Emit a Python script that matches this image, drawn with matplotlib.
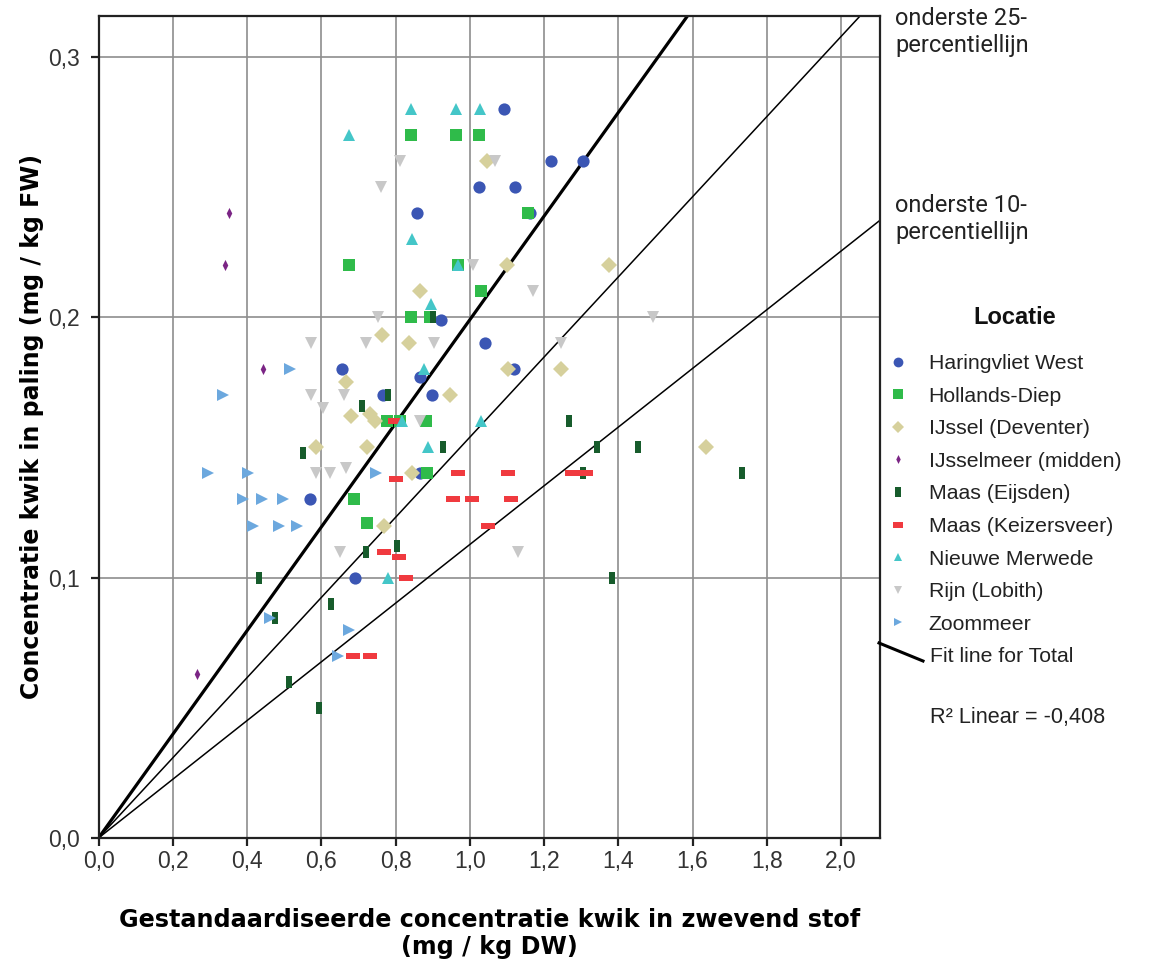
import matplotlib
matplotlib.use("Agg")
import matplotlib.pyplot as plt
from matplotlib.lines import Line2D
from matplotlib.ticker import FuncFormatter

plt.rcParams["font.family"] = ["Liberation Sans", "DejaVu Sans"]

# --- data -----------------------------------------------------------------
haringvliet_x = [1.092, 1.218, 1.304, 1.025, 1.122, 0.857, 1.162, 0.923, 1.041, 0.655,
                 1.120, 0.866, 0.767, 0.899, 0.866, 0.570, 0.691]
haringvliet_y = [0.28, 0.26, 0.26, 0.25, 0.25, 0.24, 0.24, 0.199, 0.19, 0.18,
                 0.18, 0.177, 0.17, 0.17, 0.14, 0.13, 0.10]

hollands_x = [0.841, 0.963, 1.025, 1.156, 0.676, 0.968, 1.030, 0.842, 0.893, 0.776,
              0.812, 0.881, 0.884, 0.689, 0.722]
hollands_y = [0.27, 0.27, 0.27, 0.24, 0.22, 0.22, 0.21, 0.20, 0.20, 0.16,
              0.16, 0.16, 0.14, 0.13, 0.121]

ijssel_x = [1.047, 1.100, 1.376, 0.866, 0.763, 0.835, 0.666, 1.104, 1.245, 0.947,
            0.680, 0.730, 0.745, 0.585, 0.724, 1.637, 0.845, 0.770]
ijssel_y = [0.26, 0.22, 0.22, 0.21, 0.193, 0.19, 0.175, 0.18, 0.18, 0.17,
            0.162, 0.163, 0.160, 0.15, 0.15, 0.15, 0.14, 0.12]

ijsselmeer_x = [0.352, 0.341, 0.442, 0.265]
ijsselmeer_y = [0.24, 0.22, 0.18, 0.063]

eijsden_x = [0.902, 0.781, 0.711, 1.266, 0.552, 0.929, 1.344, 1.454, 1.306, 1.734,
             0.803, 0.721, 0.433, 1.383, 0.626, 0.476, 0.514, 0.595]
eijsden_y = [0.20, 0.17, 0.166, 0.16, 0.148, 0.15, 0.15, 0.15, 0.14, 0.14,
             0.112, 0.11, 0.10, 0.10, 0.09, 0.0844, 0.06, 0.05]

keizersveer_x = [0.799, 0.801, 0.968, 1.104, 1.275, 1.313, 0.956, 1.005, 1.111, 1.048,
                 0.770, 0.810, 0.828, 0.686, 0.731]
keizersveer_y = [0.16, 0.138, 0.14, 0.14, 0.14, 0.14, 0.13, 0.13, 0.13, 0.12,
                 0.11, 0.108, 0.10, 0.07, 0.07]

merwede_x = [0.841, 0.963, 1.028, 0.676, 0.844, 0.968, 0.896, 0.878, 0.817, 1.030,
             0.887, 0.781]
merwede_y = [0.28, 0.28, 0.28, 0.27, 0.23, 0.22, 0.205, 0.18, 0.16, 0.16,
             0.15, 0.10]

rijn_x = [0.812, 1.068, 0.762, 1.008, 1.169, 0.754, 1.493, 0.572, 0.721, 0.905,
          1.246, 0.572, 0.660, 0.604, 0.866, 0.585, 0.624, 0.667, 0.651, 1.129]
rijn_y = [0.26, 0.26, 0.25, 0.22, 0.21, 0.20, 0.20, 0.19, 0.19, 0.19,
          0.19, 0.17, 0.17, 0.165, 0.16, 0.14, 0.14, 0.142, 0.11, 0.11]

zoommeer_x = [0.516, 0.335, 0.296, 0.402, 0.748, 0.388, 0.440, 0.498, 0.417, 0.486,
              0.534, 0.462, 0.676, 0.644]
zoommeer_y = [0.18, 0.17, 0.14, 0.14, 0.14, 0.13, 0.13, 0.13, 0.12, 0.12,
              0.12, 0.0844, 0.08, 0.07]

# reference lines through the origin: fit line, lower 25- and 10-percentile
line_slopes = [0.199, 0.1539, 0.1127]
line_widths = [2.3, 1.1, 1.1]

x_ticks = [0.0, 0.2, 0.4, 0.6, 0.8, 1.0, 1.2, 1.4, 1.6, 1.8, 2.0]
y_ticks = [0.0, 0.1, 0.2, 0.3]

# marker shapes (SPSS style)
vrect = [(-0.55, -1), (0.55, -1), (0.55, 1), (-0.55, 1)]
hrect = [(-1, -0.5), (1, -0.5), (1, 0.5), (-1, 0.5)]
thin_diamond = [(0, 1), (0.5, 0), (0, -1), (-0.5, 0)]

series = [
    ("Haringvliet West", haringvliet_x, haringvliet_y, "o", "#3b56b4", 8.8),
    ("Hollands-Diep", hollands_x, hollands_y, "s", "#2fbb4a", 9.0),
    ("IJssel (Deventer)", ijssel_x, ijssel_y, "D", "#d6d09c", 8.2),
    ("IJsselmeer (midden)", ijsselmeer_x, ijsselmeer_y, thin_diamond, "#7b2585", 8.0),
    ("Maas (Eijsden)", eijsden_x, eijsden_y, vrect, "#175c2c", 8.6),
    ("Maas (Keizersveer)", keizersveer_x, keizersveer_y, hrect, "#f03a3f", 9.6),
    ("Nieuwe Merwede", merwede_x, merwede_y, "^", "#44c6c8", 8.0),
    ("Rijn (Lobith)", rijn_x, rijn_y, "v", "#c8c8c8", 8.0),
    ("Zoommeer", zoommeer_x, zoommeer_y, ">", "#6ca8de", 8.0),
]

W, H = 1165, 964
fig = plt.figure(figsize=(W / 100, H / 100), dpi=100)
ax = fig.add_axes([98.5 / W, (H - 838) / H, (880 - 98.5) / W, (838 - 15.7) / H])

xmax, ymax = 2.105, 0.3158
ax.set_xlim(0, xmax)
ax.set_ylim(0, ymax)

ax.set_xticks(x_ticks)
ax.set_yticks(y_ticks)
comma = FuncFormatter(lambda v, _: f"{v:.1f}".replace(".", ","))
ax.xaxis.set_major_formatter(comma)
ax.yaxis.set_major_formatter(comma)
ax.tick_params(direction="out", length=6, width=1.6, labelsize=16.5, colors="#222222",
               labelcolor="#333333")
ax.tick_params(axis="x", pad=2.5)
ax.tick_params(axis="y", pad=7.5)
ax.grid(True, color="#8e8e8e", lw=1.2)
ax.set_axisbelow(True)
for s in ax.spines.values():
    s.set_color("#222222")
    s.set_linewidth(1.6)

for slope, lw in zip(line_slopes, line_widths):
    ax.plot([0, xmax], [0, slope * xmax], color="black", lw=lw, zorder=2)

handles = []
for name, xs, ys, mk, col, ms in series:
    ax.plot(xs, ys, linestyle="none", marker=mk, color=col, ms=ms, mew=0, zorder=3)
    handles.append(Line2D([], [], linestyle="none", marker=mk, color=col, ms=ms * 0.8, mew=0))

ax.set_xlabel("Gestandaardiseerde concentratie kwik in zwevend stof\n(mg / kg DW)",
              fontsize=17.2, fontweight="bold", family="DejaVu Sans", labelpad=25,
              linespacing=1.2)
ax.set_ylabel("Concentratie kwik in paling (mg / kg FW)", fontsize=17,
              fontweight="bold", family="DejaVu Sans", labelpad=3)

leg = ax.legend(handles, [s[0] for s in series], loc="upper left",
                bbox_to_anchor=(885 / W, 1 - 354 / H), bbox_transform=fig.transFigure,
                frameon=False, fontsize=15.3,
                handlelength=1.2, handletextpad=0.85, labelspacing=0.64,
                borderpad=0, borderaxespad=0)
for t in leg.get_texts():
    t.set_color("#222222")
fig.text(1015 / W, 1 - 317 / H, "Locatie", fontsize=17, fontweight="bold",
         ha="center", va="center", color="#111111")

# fit line entry below the legend
fig.add_artist(Line2D([879 / W, 923 / W], [1 - 643 / H, 1 - 661 / H],
                      color="black", lw=2.2, transform=fig.transFigure))
fig.text(930 / W, 1 - 656 / H, "Fit line for Total", fontsize=15.3,
         va="center", color="#222222")
fig.text(930 / W, 1 - 717 / H, "R² Linear = -0,408", fontsize=15.6,
         va="center", color="#222222")

fig.text(895 / W, 1 - 32 / H, "onderste 25-\npercentiellijn", fontsize=17,
         family="Roboto", va="center", color="#222222", linespacing=1.2)
fig.text(895 / W, 1 - 219 / H, "onderste 10-\npercentiellijn", fontsize=17,
         family="Roboto", va="center", color="#222222", linespacing=1.2)

fig.savefig("out.png", dpi=100)
